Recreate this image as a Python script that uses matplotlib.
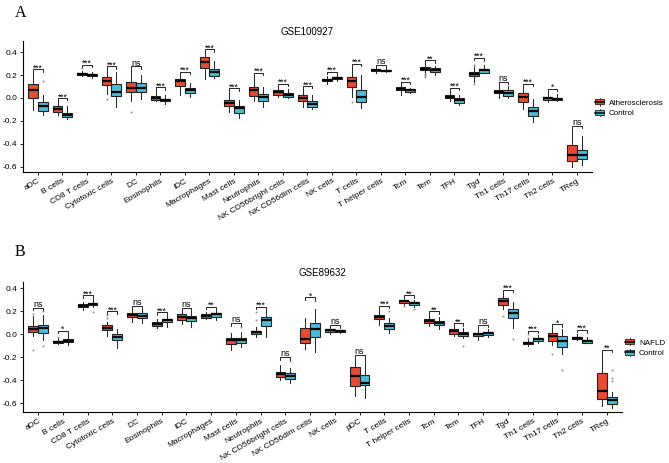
import matplotlib
matplotlib.use("Agg")
import matplotlib.pyplot as plt
from matplotlib.patches import Patch, Rectangle
from matplotlib.lines import Line2D
from matplotlib.legend_handler import HandlerBase

plt.rcParams['font.family'] = ['Liberation Sans', 'DejaVu Sans']

red = '#E64B35'
blue = '#4DBBD5'

# ---- panel A: GSE100927 ----
cells_a = ['aDC', 'B cells', 'CD8 T cells', 'Cytotoxic cells', 'DC', 'Eosinophils', 'iDC',
           'Macrophages', 'Mast cells', 'Neutrophils', 'NK CD56bright cells', 'NK CD56dim cells',
           'NK cells', 'T cells', 'T helper cells', 'Tcm', 'Tem', 'TFH', 'Tgd', 'Th1 cells',
           'Th17 cells', 'Th2 cells', 'TReg']
# (whislo, q1, med, q3, whishi)
athero = [(-0.105, 0.0, 0.07, 0.12, 0.22), (-0.15, -0.125, -0.095, -0.075, -0.03),
          (0.19, 0.2, 0.21, 0.22, 0.235), (0.03, 0.11, 0.15, 0.18, 0.245),
          (-0.03, 0.05, 0.09, 0.14, 0.245), (-0.025, -0.018, 0.003, 0.018, 0.065),
          (0.025, 0.105, 0.15, 0.165, 0.2), (0.165, 0.26, 0.315, 0.36, 0.395),
          (-0.12, -0.075, -0.045, -0.02, 0.055), (-0.03, 0.02, 0.065, 0.095, 0.19),
          (0.01, 0.025, 0.05, 0.065, 0.095), (-0.08, -0.025, 0.0, 0.025, 0.075),
          (0.12, 0.145, 0.155, 0.165, 0.19), (0.01, 0.093, 0.15, 0.185, 0.27),
          (0.22, 0.232, 0.24, 0.248, 0.255), (0.025, 0.07, 0.08, 0.093, 0.113),
          (0.19, 0.245, 0.255, 0.27, 0.3), (-0.03, -0.005, 0.01, 0.026, 0.06),
          (0.14, 0.19, 0.21, 0.227, 0.28), (0.0, 0.04, 0.055, 0.07, 0.113),
          (-0.1, -0.04, 0.006, 0.04, 0.093), (-0.04, -0.017, -0.005, 0.006, 0.05),
          (-0.6, -0.548, -0.498, -0.413, -0.274)]
control_a = [(-0.15, -0.115, -0.075, -0.04, 0.025), (-0.185, -0.17, -0.15, -0.135, -0.075),
             (0.17, 0.19, 0.2, 0.21, 0.23), (-0.08, 0.02, 0.05, 0.12, 0.23),
             (-0.01, 0.05, 0.09, 0.13, 0.2), (-0.05, -0.03, -0.02, -0.01, 0.025),
             (0.01, 0.04, 0.07, 0.09, 0.13), (0.17, 0.19, 0.225, 0.255, 0.32),
             (-0.18, -0.13, -0.09, -0.07, -0.02), (-0.08, -0.025, 0.005, 0.03, 0.095),
             (0.0, 0.01, 0.025, 0.04, 0.075), (-0.1, -0.08, -0.05, -0.03, 0.025),
             (0.15, 0.165, 0.175, 0.185, 0.2), (-0.09, -0.04, 0.005, 0.07, 0.2),
             (0.222, 0.232, 0.238, 0.245, 0.252), (0.04, 0.055, 0.068, 0.08, 0.09),
             (0.2, 0.227, 0.245, 0.26, 0.28), (-0.06, -0.046, -0.02, -0.003, 0.026),
             (0.215, 0.22, 0.24, 0.25, 0.29), (0.0, 0.017, 0.04, 0.07, 0.1),
             (-0.21, -0.157, -0.114, -0.08, -0.01), (-0.03, -0.02, -0.01, -0.003, 0.03),
             (-0.585, -0.536, -0.5, -0.455, -0.33)]
fliers_athero = {'CD8 T cells': [0.26], 'Cytotoxic cells': [-0.01], 'DC': [-0.12],
                 'T cells': [-0.04], 'Tem': [0.21, 0.2, 0.18], 'Tgd': [0.12, 0.29]}
fliers_control_a = {'aDC': [0.15], 'Tgd': [0.32]}
signif_a = ['***', '***', '***', '***', 'ns', '***', '***', '***', '***', '***', '***', '***',
            '***', '***', 'ns', '***', '**', '***', '***', 'ns', '***', '*', 'ns']

# ---- panel B: GSE89632 ----
cells_b = ['aDC', 'B cells', 'CD8 T cells', 'Cytotoxic cells', 'DC', 'Eosinophils', 'iDC',
           'Macrophages', 'Mast cells', 'Neutrophils', 'NK CD56bright cells', 'NK CD56dim cells',
           'NK cells', 'pDC', 'T cells', 'T helper cells', 'Tcm', 'Tem', 'TFH', 'Tgd',
           'Th1 cells', 'Th17 cells', 'Th2 cells', 'TReg']
nafld = [(-0.015, 0.023, 0.045, 0.072, 0.16), (-0.087, -0.078, -0.07, -0.058, -0.035),
         (0.21, 0.235, 0.245, 0.26, 0.284), (-0.015, 0.038, 0.058, 0.08, 0.105),
         (0.11, 0.148, 0.165, 0.183, 0.22), (0.058, 0.075, 0.087, 0.104, 0.13),
         (0.087, 0.125, 0.148, 0.174, 0.2), (0.13, 0.145, 0.16, 0.174, 0.197),
         (-0.136, -0.084, -0.05, -0.035, 0.01), (-0.02, 0.0, 0.017, 0.032, 0.067),
         (-0.397, -0.368, -0.348, -0.325, -0.267), (-0.13, -0.078, -0.04, 0.052, 0.145),
         (0.0, 0.023, 0.035, 0.043, 0.05), (-0.534, -0.45, -0.363, -0.287, -0.209),
         (0.081, 0.13, 0.15, 0.168, 0.217), (0.255, 0.27, 0.285, 0.292, 0.31),
         (0.072, 0.096, 0.116, 0.13, 0.168), (-0.015, 0.003, 0.026, 0.043, 0.067),
         (-0.05, -0.015, 0.0, 0.014, 0.052), (0.22, 0.255, 0.29, 0.313, 0.357),
         (-0.1, -0.087, -0.078, -0.07, -0.043), (-0.093, -0.058, -0.015, 0.009, 0.058),
         (-0.052, -0.043, -0.03, -0.02, 0.003), (-0.623, -0.565, -0.49, -0.334, -0.165)]
control_b = [(-0.05, 0.01, 0.052, 0.08, 0.17), (-0.093, -0.07, -0.055, -0.04, 0.0),
             (0.235, 0.252, 0.264, 0.275, 0.31), (-0.12, -0.05, -0.02, 0.003, 0.046),
             (0.1, 0.14, 0.162, 0.183, 0.22), (0.067, 0.107, 0.122, 0.133, 0.16),
             (0.067, 0.116, 0.14, 0.162, 0.2), (0.125, 0.154, 0.174, 0.188, 0.21),
             (-0.107, -0.078, -0.05, -0.035, 0.023), (-0.026, 0.072, 0.12, 0.148, 0.21),
             (-0.426, -0.388, -0.362, -0.333, -0.29), (-0.15, -0.026, 0.043, 0.096, 0.22),
             (0.01, 0.02, 0.03, 0.035, 0.04), (-0.557, -0.44, -0.42, -0.354, -0.21),
             (0.014, 0.043, 0.072, 0.1, 0.139), (0.24, 0.257, 0.27, 0.283, 0.3),
             (0.043, 0.078, 0.1, 0.118, 0.148), (-0.03, -0.015, 0.003, 0.023, 0.052),
             (-0.02, -0.006, 0.009, 0.023, 0.043), (0.052, 0.139, 0.183, 0.217, 0.284),
             (-0.078, -0.058, -0.043, -0.03, -0.006), (-0.17, -0.108, -0.058, -0.015, 0.043),
             (-0.08, -0.073, -0.06, -0.05, -0.026), (-0.644, -0.609, -0.571, -0.542, -0.499)]
fliers_nafld = {'aDC': [-0.136, 0.18], 'B cells': [-0.02], 'Cytotoxic cells': [0.17, 0.14],
                'Neutrophils': [0.125, 0.19], 'T helper cells': [0.25], 'Tgd': [0.159],
                'Th1 cells': [0.0, -0.03], 'Th17 cells': [-0.17]}
fliers_control_b = {'aDC': [-0.1, 0.2], 'CD8 T cells': [0.19], 'Mast cells': [0.067],
                    'NK CD56bright cells': [-0.23], 'NK CD56dim cells': [0.29], 'T cells': [0.2],
                    'T helper cells': [0.217], 'Tem': [-0.1], 'Tgd': [-0.04],
                    'Th17 cells': [-0.307], 'Th2 cells': [0.009], 'TReg': [-0.307, -0.38, -0.41]}
signif_b = ['ns', '*', '***', '***', 'ns', '***', 'ns', '**', 'ns', '***', 'ns', '*', 'ns', 'ns',
            '***', '**', '**', '**', 'ns', '***', '***', '*', '***', '**']


class BoxHandler(HandlerBase):
    # small boxplot glyph for the legend keys
    def create_artists(self, legend, orig_handle, xdescent, ydescent, width, height,
                       fontsize, trans):
        x0, y0 = -xdescent, -ydescent
        w = Line2D([x0 + width / 2] * 2, [y0 - height * 0.1, y0 + height * 1.1],
                   color='#222222', lw=0.6, transform=trans)
        r = Rectangle((x0, y0 + height * 0.1), width, height * 0.8,
                      facecolor=orig_handle.get_facecolor(), edgecolor='#222222', lw=0.6,
                      transform=trans)
        m = Line2D([x0, x0 + width], [y0 + height / 2] * 2, color='black', lw=1.1,
                   transform=trans)
        return [w, r, m]


def make_stats(cells, stats, fliers):
    out = []
    for c, s in zip(cells, stats):
        out.append(dict(whislo=s[0], q1=s[1], med=s[2], q3=s[3], whishi=s[4],
                        fliers=fliers.get(c, [])))
    return out


def draw_panel(ax, cells, g1, g2, f1, f2, signif, names, title, ylim, leg_y):
    pos = list(range(1, len(cells) + 1))
    s1 = make_stats(cells, g1, f1)
    s2 = make_stats(cells, g2, f2)
    for stats, off, col in [(s1, -0.2, red), (s2, 0.2, blue)]:
        ax.bxp(stats, positions=[p + off for p in pos], widths=0.4, patch_artist=True,
               showcaps=False,
               boxprops=dict(facecolor=col, edgecolor='#222222', linewidth=0.8),
               medianprops=dict(color='black', linewidth=1.6),
               whiskerprops=dict(color='#222222', linewidth=0.7),
               flierprops=dict(marker='o', markersize=1.5, markerfacecolor='#999999',
                               markeredgecolor='none'))
    # significance brackets
    for i, c in enumerate(cells):
        top = max(g1[i][4], g2[i][4], *(f1.get(c, []) + f2.get(c, [])))
        y = top + 0.03
        x0, x1 = pos[i] - 0.2, pos[i] + 0.2
        ax.plot([x0, x0, x1, x1], [y - 0.022, y, y, y - 0.022], color='black', lw=0.6)
        if signif[i] == 'ns':
            ax.text(pos[i], y + 0.008, 'ns', ha='center', va='baseline', fontsize=6.5)
        else:
            ax.text(pos[i], y - 0.012, signif[i], ha='center', va='baseline', fontsize=6.2)
    ax.set_xlim(0.4, len(cells) + 0.6)
    ax.set_ylim(*ylim)
    ax.set_yticks([0.4, 0.2, 0.0, -0.2, -0.4, -0.6])
    ax.set_yticklabels(['0.4', '0.2', '0.0', '-0.2', '-0.4', '-0.6'])
    ax.set_xticks(pos)
    ax.set_xticklabels(cells, rotation=30, ha='right', rotation_mode='anchor')
    ax.tick_params(labelsize=6.0, length=2.5, width=0.6, colors='black', pad=1.8)
    for sp in ['top', 'right']:
        ax.spines[sp].set_visible(False)
    for sp in ['left', 'bottom']:
        ax.spines[sp].set_linewidth(0.8)
    ax.set_title(title, fontsize=7, pad=4)
    handles = [Patch(facecolor=red, label=names[0]), Patch(facecolor=blue, label=names[1])]
    ax.legend(handles=handles, handler_map={Patch: BoxHandler()}, loc='center left',
              bbox_to_anchor=(1.0, leg_y), frameon=False, fontsize=5.8, handlelength=1.1,
              handleheight=0.8, handletextpad=0.6, labelspacing=0.35, borderaxespad=0.15,
              borderpad=0.3)


fig = plt.figure(figsize=(6.69, 4.63), dpi=100)
ax1 = fig.add_axes([0.0348, 0.6292, 0.8496, 0.2829])
ax2 = fig.add_axes([0.0348, 0.1108, 0.8945, 0.2808])

draw_panel(ax1, cells_a, athero, control_a, fliers_athero, fliers_control_a, signif_a,
           ['Atherosclerosis', 'Control'], 'GSE100927', (-0.645, 0.5), 0.486)
draw_panel(ax2, cells_b, nafld, control_b, fliers_nafld, fliers_control_b, signif_b,
           ['NAFLD', 'Control'], 'GSE89632', (-0.673, 0.457), 0.49)

fig.text(0.022, 0.963, 'A', fontsize=11.5, family='Liberation Serif', va='baseline')
fig.text(0.022, 0.447, 'B', fontsize=11.5, family='Liberation Serif', va='baseline')

fig.savefig('out.png', dpi=100)
